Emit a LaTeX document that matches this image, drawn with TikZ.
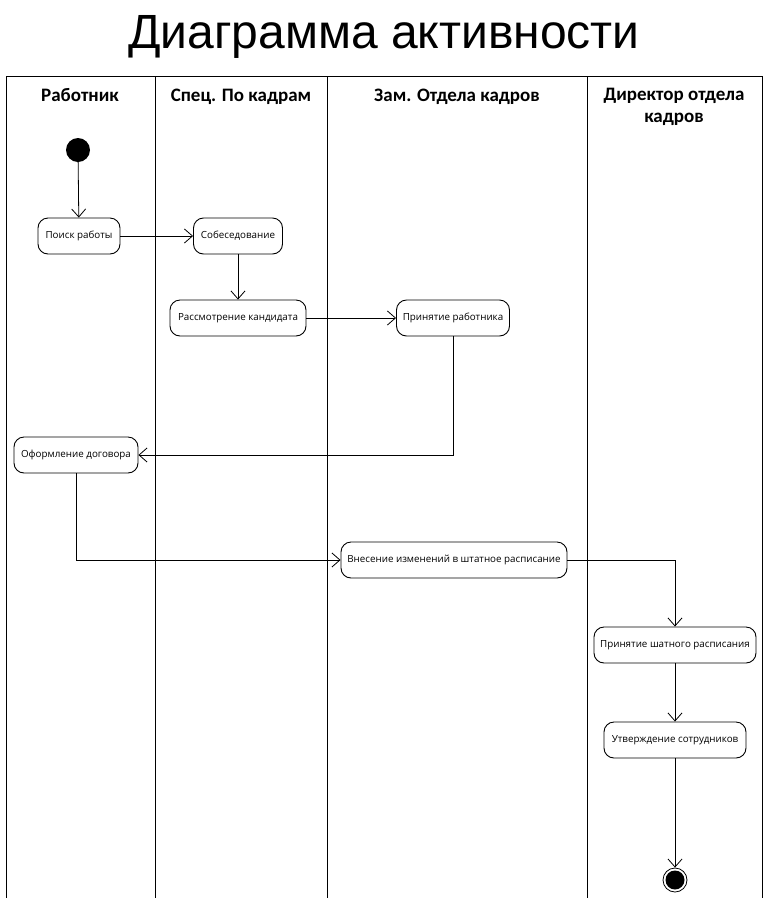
\documentclass[tikz,border=0pt]{standalone}
\usepackage{fontspec}
\setmainfont{Liberation Sans}
\newfontfamily\headfont{Carlito}
\newfontfamily\nodefont{Open Sans}
\usetikzlibrary{arrows.meta}
\tikzset{
  act/.style={draw, line width=0.9pt, rounded corners=10pt, minimum height=36pt, inner xsep=6pt, font=\nodefont\fontsize{9.8}{11}\selectfont, fill=white},
  flow/.style={line width=0.8pt, -{Straight Barb[length=8pt, width=14pt, line width=0.8pt]}},
  lane/.style={line width=0.9pt},
  hdr/.style={font=\headfont\bfseries\fontsize{19}{22}\selectfont, align=center},
}
\begin{document}
\begin{tikzpicture}[x=1pt,y=-1pt]
\useasboundingbox[fill=white] (0,0) rectangle (769,898);
\node[font=\fontsize{48}{52}\selectfont] (title) at (384,37) {Диаграмма активности};
% lanes
\draw[lane] (6,898) -- (6,76) -- (762,76) -- (762,898);
\draw[lane] (155,76) -- (155,898);
\draw[lane] (327,76) -- (327,898);
\draw[lane] (587,76) -- (587,898);
\node[hdr, anchor=base] (h1) at (80,101) {Работник};
\node[hdr, anchor=base] (h2) at (241,101) {Спец. По кадрам};
\node[hdr, anchor=base] (h3) at (457,101) {Зам. Отдела кадров};
\node[hdr] (h4) at (674,107) {Директор отдела\\кадров};
% nodes
\node[circle, fill=black, minimum size=24pt, inner sep=0pt] (start) at (78,150) {};
\node[act, minimum width=82pt] (n1) at (79,236) {Поиск работы};
\node[act, minimum width=89pt] (n2) at (238,236) {Собеседование};
\node[act, minimum width=136pt] (n3) at (238,318) {Рассмотрение кандидата};
\node[act, minimum width=113pt] (n4) at (453,318) {Принятие работника};
\node[act, minimum width=124pt] (n5) at (76,455) {Оформление договора};
\node[act, minimum width=226pt] (n6) at (454,560) {Внесение изменений в штатное расписание};
\node[act, minimum width=162pt] (n7) at (675,645) {Принятие шатного расписания};
\node[act, minimum width=142pt] (n8) at (675,740) {Утверждение сотрудников};
\node[circle, draw, line width=0.8pt, minimum size=24pt, inner sep=0pt] (end) at (675,880) {};
\node[circle, fill=black, minimum size=19pt, inner sep=0pt] (endin) at (end.center) {};
% flows
\draw[flow] (start) -- (n1);
\draw[flow] (n1) -- (n2);
\draw[flow] (n2) -- (n3);
\draw[flow] (n3) -- (n4);
\draw[flow] (n4.south) |- (n5.east);
\draw[flow] (n5.south) |- (n6.west);
\draw[flow] (n6.east) -| (n7.north);
\draw[flow] (n7) -- (n8);
\draw[flow] (n8) -- (end);
\end{tikzpicture}
\end{document}
